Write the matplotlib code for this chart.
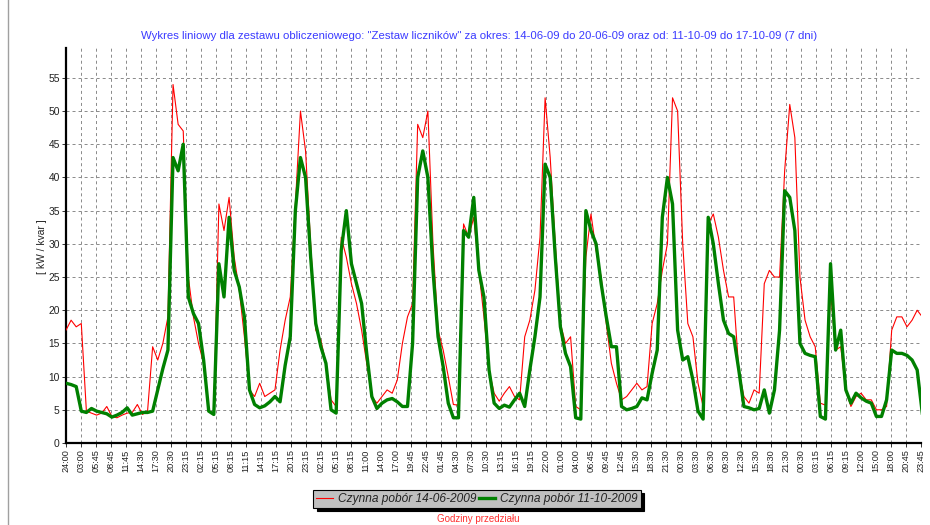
import numpy as np
import matplotlib
matplotlib.use("Agg")
import matplotlib.pyplot as plt
from matplotlib.lines import Line2D

title = ('Wykres liniowy dla zestawu obliczeniowego: "Zestaw liczników" za okres: '
         '14-06-09 do 20-06-09 oraz od: 11-10-09 do 17-10-09 (7 dni)')
series_red_label = "Czynna pobór 14-06-2009"
series_green_label = "Czynna pobór 11-10-2009"
ylabel = "[ kW / kvar ]"
xlabel = "Godziny przedziału"

x_tick_labels = [
    "24:00", "03:00", "05:45", "08:45", "11:45", "14:30", "17:30", "20:30", "23:15", "02:15",
    "05:15", "08:15", "11:15", "14:15", "17:15", "20:15", "23:15", "02:15", "05:15", "08:15",
    "11:00", "14:00", "17:00", "19:45", "22:45", "01:45", "04:30", "07:30", "10:30", "13:15",
    "16:15", "19:15", "22:00", "01:00", "04:00", "06:45", "09:45", "12:45", "15:30", "18:30",
    "21:30", "00:30", "03:30", "06:30", "09:30", "12:30", "15:30", "18:30", "21:30", "00:30",
    "03:15", "06:15", "09:15", "12:00", "15:00", "18:00", "20:45", "23:45",
]
y_ticks = [0, 5, 10, 15, 20, 25, 30, 35, 40, 45, 50, 55]

# hourly readings (hour 0 .. 168 of the 7-day window)
red_values = [
    17, 18.5, 17.5, 18, 4.8, 4.5, 4.2, 4.5, 5.5, 4, 3.8, 4.2, 4.5, 4.6, 5.8, 4.3, 4.8, 14.5, 12.5, 15,
    19, 54, 48, 47, 25, 19, 15, 12, 4.8, 4.5, 36, 32, 37, 28, 23, 16, 8, 7, 9, 7,
    7.5, 8, 14, 18.5, 22, 36, 50, 44, 30, 17, 15.5, 12, 6.5, 5.5, 31, 28, 24, 21, 17, 12,
    7, 6, 7, 8, 7.5, 9.5, 15, 19, 21, 48, 46, 50, 30, 17, 14, 10, 5.8, 5.7, 33, 31,
    34, 26, 19, 11, 7.5, 6.3, 7.5, 8.5, 7, 6.5, 16, 18.5, 23, 31, 52, 43, 30, 18, 15, 16,
    5.5, 5, 28, 34.5, 29, 25, 18, 12, 9, 6.5, 7, 8, 9, 8, 8.5, 18, 21, 26, 30, 52,
    50, 30, 18, 16, 9, 5.5, 33, 34.5, 31, 26, 22, 22, 11, 7, 6, 8, 7.5, 24, 26, 25,
    25, 41, 51, 46, 25, 18.5, 16, 14.5, 6, 5.7, 23, 14, 14.5, 8, 5.5, 7, 7.5, 6.5, 6.5, 5,
    5, 5.5, 17, 19, 19, 17.5, 18.5, 20, 19,
]
green_values = [
    9, 8.8, 8.5, 4.8, 4.6, 5.2, 4.8, 4.6, 4.4, 3.9, 4.2, 4.6, 5.3, 4.2, 4.4, 4.6, 4.6, 4.8, 8, 11.2,
    14, 43, 41, 45, 22, 19.5, 18, 12.5, 4.8, 4.3, 27, 22, 34, 26, 23.5, 19, 8, 5.8, 5.3, 5.6,
    6.2, 7, 6.2, 11.7, 16, 35, 43, 40, 28, 18, 14.5, 12, 5, 4.5, 29, 35, 27, 24, 21, 13.5,
    7, 5.2, 6, 6.5, 6.7, 6.2, 5.5, 5.5, 15, 40, 44, 40, 26, 16, 11.5, 6, 3.8, 3.8, 32, 31,
    37, 26, 22, 11, 6, 5.2, 5.7, 5.4, 6.5, 7.5, 5.5, 11, 16, 22, 42, 40, 28, 17.5, 13.5, 11.5,
    3.8, 3.6, 35, 32, 30, 24, 19, 14.5, 14.5, 5.5, 5, 5.2, 5.5, 6.8, 6.5, 10.5, 14, 34, 40, 36,
    17, 12.5, 13, 9.5, 4.8, 3.6, 34, 30, 24, 18.5, 16.5, 16, 11, 5.5, 5.3, 5, 5.2, 8, 4.5, 8,
    17, 38, 37, 32, 15, 13.5, 13.2, 13, 4, 3.6, 27, 14, 17, 8, 6, 7.5, 6.8, 6.3, 6, 4,
    4, 6.5, 14, 13.5, 13.5, 13.2, 12.5, 11, 4.5,
]

plt.rcParams['font.family'] = ['Liberation Sans', 'DejaVu Sans']

W, H = 930, 525
fig = plt.figure(figsize=(W / 100, H / 100), dpi=100)
fig.patch.set_facecolor('white')

L, R, T, B = 66, 921, 48, 443
ax = fig.add_axes([L / W, 1 - B / H, (R - L) / W, (B - T) / H])

x_end = 167.75
ax.plot(np.arange(len(red_values)), red_values, color='#ff0000', lw=0.8, zorder=3)
ax.plot(np.arange(len(green_values)), green_values, color='#008000', lw=2.4, zorder=4,
        solid_joinstyle='round')

ax.set_xlim(0, x_end)
ax.set_ylim(0, 59.5)
xt = np.linspace(0, x_end, len(x_tick_labels))
ax.set_xticks(xt)
ax.set_xticklabels(x_tick_labels, rotation=90, fontsize=6.6, color='#222222')
ax.set_yticks(y_ticks)
ax.set_yticklabels([str(v) for v in y_ticks], fontsize=7.4, color='#222222')
ax.tick_params(axis='both', length=3, width=0.7, color='#333333', pad=1.5)

ax.grid(True, color='#8a8a8a', lw=0.7, linestyle=(0, (3.1, 3.1)))
ax.set_axisbelow(True)
for s in ['top', 'right']:
    ax.spines[s].set_visible(False)
for s in ['left', 'bottom']:
    ax.spines[s].set_linewidth(1.6)
    ax.spines[s].set_color('black')

fig.text(0.5 * (140 + 818) / W, 1 - 36 / H, title, ha='center', va='center',
         fontsize=8.2, color='#3a3aff')
fig.text(42 / W, 1 - 247 / H, ylabel, rotation=90, ha='center', va='center',
         fontsize=7.4, color='#222222')
fig.text(478 / W, 1 - 519.5 / H, xlabel, ha='center', va='center', fontsize=7, color='#ff3030')

handles = [Line2D([], [], color='#ff0000', lw=0.8),
           Line2D([], [], color='#008000', lw=2.4)]
leg = fig.legend(handles, [series_red_label, series_green_label], ncol=2,
                 loc='center', bbox_to_anchor=(477 / W, 1 - 499 / H),
                 prop={'style': 'italic', 'size': 8.6}, frameon=True, fancybox=False,
                 facecolor='#c0c0c0', edgecolor='black', framealpha=1,
                 handlelength=1.4, handletextpad=0.4, columnspacing=0.2,
                 borderpad=0.25, borderaxespad=0,
                 shadow={'ox': 2.5, 'oy': -2.5, 'color': 'black', 'alpha': 1})
leg.get_frame().set_linewidth(0.8)
for t in leg.get_texts():
    t.set_color('#222222')

# outer panel border line on the left
fig.add_artist(Line2D([8 / W, 8 / W], [0, 1], color='#a0a0a0', lw=1.0))

fig.savefig('out.png', dpi=100)
